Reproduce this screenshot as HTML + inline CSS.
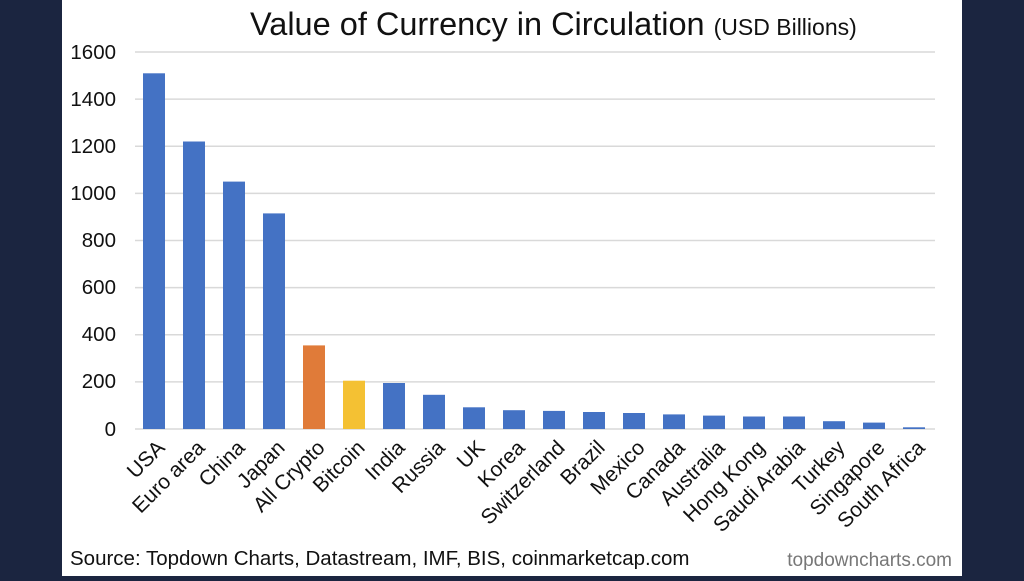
<!DOCTYPE html>
<html><head><meta charset="utf-8"><style>
body{margin:0;width:1024px;height:576px;background:#1b2540;overflow:hidden}
</style></head><body>
<svg width="1024" height="576" xmlns="http://www.w3.org/2000/svg" font-family="Liberation Sans, sans-serif">
<rect x="0" y="0" width="1024" height="576" fill="#1b2540"/>
<rect x="62" y="0" width="900" height="576" fill="#ffffff"/>
<text x="250" y="35" font-size="32.5" fill="#111">Value of Currency in Circulation <tspan font-size="23">(USD Billions)</tspan></text>
<g stroke="#d9d9d9" stroke-width="1.5">
<line x1="135" x2="935" y1="52" y2="52"/><line x1="135" x2="935" y1="99.1" y2="99.1"/>
<line x1="135" x2="935" y1="146.2" y2="146.2"/><line x1="135" x2="935" y1="193.4" y2="193.4"/>
<line x1="135" x2="935" y1="240.5" y2="240.5"/><line x1="135" x2="935" y1="287.6" y2="287.6"/>
<line x1="135" x2="935" y1="334.8" y2="334.8"/><line x1="135" x2="935" y1="381.9" y2="381.9"/>
<line x1="135" x2="935" y1="429" y2="429"/>
</g>
<g font-size="20.5" fill="#111" text-anchor="end">
<text x="116" y="59">1600</text><text x="116" y="106">1400</text><text x="116" y="153">1200</text>
<text x="116" y="200">1000</text><text x="116" y="247">800</text><text x="116" y="294">600</text>
<text x="116" y="341">400</text><text x="116" y="388">200</text><text x="116" y="436">0</text>
</g>
<text x="70" y="565" font-size="20.5" fill="#111">Source: Topdown Charts, Datastream, IMF, BIS, coinmarketcap.com</text>
<text x="952" y="566" font-size="19" fill="#777" text-anchor="end">topdowncharts.com</text>
<g fill="#4472c4">
<rect x="143" y="73.3" width="22" height="355.7"/>
<rect x="183" y="141.5" width="22" height="287.5"/>
<rect x="223" y="181.6" width="22" height="247.4"/>
<rect x="263" y="213.4" width="22" height="215.6"/>
<rect x="303" y="345.4" width="22" height="83.6" fill="#e07b39"/>
<rect x="343" y="380.7" width="22" height="48.3" fill="#f4c133"/>
<rect x="383" y="383" width="22" height="46"/>
<rect x="423" y="394.8" width="22" height="34.2"/>
<rect x="463" y="407.3" width="22" height="21.7"/>
<rect x="503" y="410.2" width="22" height="18.8"/>
<rect x="543" y="410.9" width="22" height="18.1"/>
<rect x="583" y="412" width="22" height="17"/>
<rect x="623" y="413" width="22" height="16"/>
<rect x="663" y="414.4" width="22" height="14.6"/>
<rect x="703" y="415.6" width="22" height="13.4"/>
<rect x="743" y="416.5" width="22" height="12.5"/>
<rect x="783" y="416.5" width="22" height="12.5"/>
<rect x="823" y="421.2" width="22" height="7.8"/>
<rect x="863" y="422.6" width="22" height="6.4"/>
<rect x="903" y="427.3" width="22" height="1.7"/>
</g>
<g font-size="21" fill="#111" text-anchor="end">
<text transform="translate(166,449) rotate(-45)">USA</text>
<text transform="translate(206,449) rotate(-45)">Euro area</text>
<text transform="translate(246,449) rotate(-45)">China</text>
<text transform="translate(286,449) rotate(-45)">Japan</text>
<text transform="translate(326,449) rotate(-45)">All Crypto</text>
<text transform="translate(366,449) rotate(-45)">Bitcoin</text>
<text transform="translate(406,449) rotate(-45)">India</text>
<text transform="translate(446,449) rotate(-45)">Russia</text>
<text transform="translate(486,449) rotate(-45)">UK</text>
<text transform="translate(526,449) rotate(-45)">Korea</text>
<text transform="translate(566,449) rotate(-45)">Switzerland</text>
<text transform="translate(606,449) rotate(-45)">Brazil</text>
<text transform="translate(646,449) rotate(-45)">Mexico</text>
<text transform="translate(686,449) rotate(-45)">Canada</text>
<text transform="translate(726,449) rotate(-45)">Australia</text>
<text transform="translate(766,449) rotate(-45)">Hong Kong</text>
<text transform="translate(806,449) rotate(-45)">Saudi Arabia</text>
<text transform="translate(846,449) rotate(-45)">Turkey</text>
<text transform="translate(886,449) rotate(-45)">Singapore</text>
<text transform="translate(926,449) rotate(-45)">South Africa</text>
</g>
</svg>
</body></html>
